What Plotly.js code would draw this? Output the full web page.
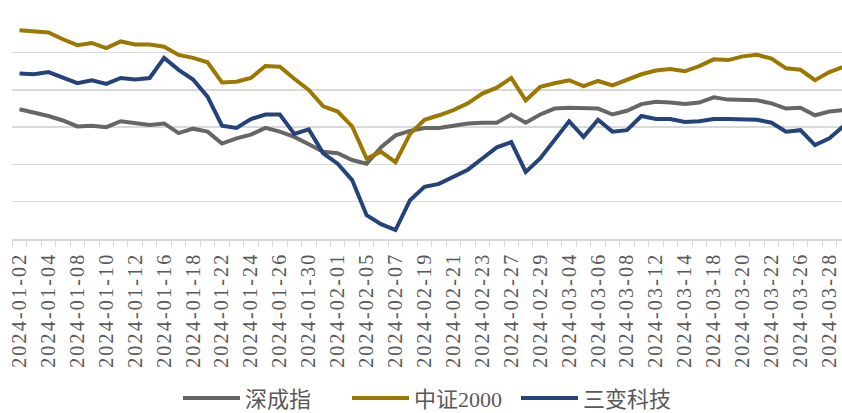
<!DOCTYPE html>
<html>
<head>
<meta charset="utf-8">
<script src="https://cdn.plot.ly/plotly-3.0.1.min.js"></script>
<style>
html,body{margin:0;padding:0;background:#fff;}
#chart{width:842px;height:413px;}
#chart .xtick text{letter-spacing:2.2px;}
</style>
</head>
<body>
<div id="chart"></div>
<script>
const dates = [
 "2024-01-02","2024-01-03","2024-01-04","2024-01-05","2024-01-08","2024-01-09","2024-01-10","2024-01-11","2024-01-12","2024-01-15",
 "2024-01-16","2024-01-17","2024-01-18","2024-01-19","2024-01-22","2024-01-23","2024-01-24","2024-01-25","2024-01-26","2024-01-29",
 "2024-01-30","2024-01-31","2024-02-01","2024-02-02","2024-02-05","2024-02-06","2024-02-07","2024-02-08","2024-02-19","2024-02-20",
 "2024-02-21","2024-02-22","2024-02-23","2024-02-26","2024-02-27","2024-02-28","2024-02-29","2024-03-01","2024-03-04","2024-03-05",
 "2024-03-06","2024-03-07","2024-03-08","2024-03-11","2024-03-12","2024-03-13","2024-03-14","2024-03-15","2024-03-18","2024-03-19",
 "2024-03-20","2024-03-21","2024-03-22","2024-03-25","2024-03-26","2024-03-27","2024-03-28","2024-03-29"
];
const seriesNames = ["深成指", "中证2000", "三变科技"];
const shenzhen = [
 0.874,0.870,0.865,0.859,0.851,0.852,0.850,0.858,0.855,0.853,
 0.855,0.842,0.848,0.844,0.828,0.835,0.840,0.849,0.844,0.837,
 0.827,0.817,0.815,0.806,0.801,0.823,0.839,0.845,0.849,0.849,
 0.852,0.855,0.856,0.856,0.867,0.856,0.867,0.875,0.876,0.876,
 0.875,0.867,0.872,0.881,0.884,0.883,0.881,0.883,0.890,0.887,
 0.887,0.886,0.882,0.875,0.876,0.866,0.871,0.873
];
const csi2000 = [
 0.980,0.978,0.977,0.968,0.960,0.963,0.956,0.965,0.961,0.961,
 0.958,0.947,0.943,0.937,0.910,0.911,0.916,0.932,0.931,0.915,
 0.900,0.878,0.871,0.851,0.808,0.817,0.803,0.841,0.860,0.866,
 0.873,0.882,0.895,0.903,0.916,0.886,0.904,0.909,0.913,0.905,
 0.912,0.906,0.913,0.921,0.926,0.928,0.925,0.932,0.941,0.940,
 0.945,0.947,0.942,0.929,0.927,0.913,0.924,0.931
];
const sanbian = [
 0.922,0.921,0.924,0.917,0.909,0.913,0.908,0.916,0.914,0.916,
 0.943,0.927,0.914,0.891,0.852,0.849,0.861,0.867,0.867,0.841,
 0.847,0.815,0.801,0.779,0.732,0.720,0.712,0.752,0.770,0.774,
 0.784,0.793,0.808,0.823,0.830,0.790,0.808,0.832,0.858,0.837,
 0.860,0.844,0.846,0.865,0.861,0.861,0.857,0.858,0.861,0.861,
 0.861,0.860,0.856,0.844,0.846,0.826,0.835,0.852
];
const tickLabels = dates.map((d, i) => (i % 2 === 0 ? d : ""));

const colors = ["#666666", "#9C7800", "#24437A"];
const allSeries = [shenzhen, csi2000, sanbian];

const traces = allSeries.map((ys, k) => ({
  type: "scatter",
  mode: "lines",
  x: dates,
  y: ys,
  name: seriesNames[k],
  line: {color: colors[k], width: 4, shape: "linear"},
  hoverinfo: "skip"
}));

const layout = {
  width: 842,
  height: 413,
  margin: {l: 12, r: 0, t: 15, b: 174},
  paper_bgcolor: "#ffffff",
  plot_bgcolor: "#ffffff",
  showlegend: true,
  xaxis: {
    type: "category",
    range: [-0.52, 56.87],
    tickmode: "array",
    tickvals: dates,
    ticktext: tickLabels,
    tickson: "boundaries",
    ticks: "outside",
    ticklen: 6,
    tickwidth: 1,
    tickcolor: "#d9d9d9",
    tickangle: -90,
    ticklabelstandoff: 4,
    tickfont: {family: "Liberation Serif, Times New Roman, serif", size: 20, color: "#595959"},
    showline: true,
    linecolor: "#d9d9d9",
    linewidth: 1.5,
    showgrid: false,
    zeroline: false,
    fixedrange: true
  },
  yaxis: {
    range: [0.70, 1.0005],
    tick0: 0.70,
    dtick: 0.05,
    showticklabels: false,
    ticks: "",
    showgrid: true,
    gridcolor: "#d9d9d9",
    gridwidth: 1.5,
    zeroline: false,
    showline: false,
    fixedrange: true
  },
  legend: {
    orientation: "h",
    xref: "container",
    yref: "container",
    x: 178 / 842,
    xanchor: "left",
    y: 0.036,
    yanchor: "middle",
    font: {family: "Liberation Serif, Noto Sans CJK SC, serif", size: 22, color: "#595959"},
    itemwidth: 57,
    entrywidth: 97,
    entrywidthmode: "pixels",
    tracegroupgap: 0
  }
};

Plotly.newPlot("chart", traces, layout, {displayModeBar: false, staticPlot: true});
</script>
</body>
</html>
